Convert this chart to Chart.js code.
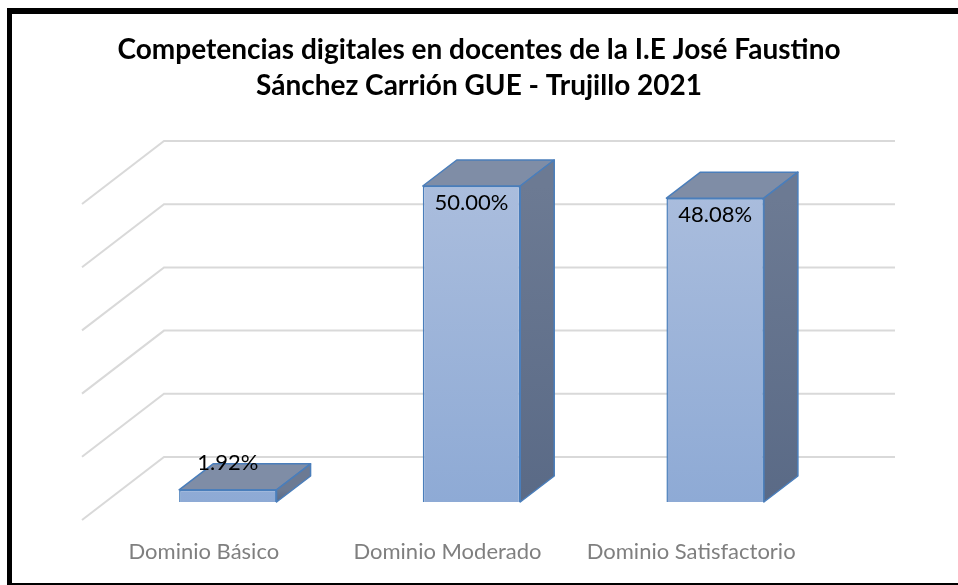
<!DOCTYPE html>
<html>
<head>
<meta charset="utf-8">
<script src="https://cdn.jsdelivr.net/npm/chart.js@4"></script>
<style>
html, body { margin: 0; padding: 0; background: #fff; }
</style>
</head>
<body>
<canvas id="chart" width="958" height="585"></canvas>
<script>
var categories = ["Dominio Básico", "Dominio Moderado", "Dominio Satisfactorio"];
var percentages = [1.92, 50.00, 48.08];
var valueLabels = ["1.92%", "50.00%", "48.08%"];
var gridValues = [0, 10, 20, 30, 40, 50];
var titleLines = ["Competencias digitales en docentes de la I.E José Faustino", "Sánchez Carrión GUE - Trujillo 2021"];

// oblique offsets for the fake 3D look (relative to the bars' front plane)
var BAR_DEPTH = { x: 34, y: -26 };
var WALL_BACK = { x: 58, y: -45 };
var WALL_FRONT = { x: -24, y: 18 };
var EDGE = '#4A7EBB';

var fake3d = {
    id: 'fake3d',
    beforeDraw: function (chart) {
        var ctx = chart.ctx;
        ctx.save();
        ctx.fillStyle = '#fff';
        ctx.fillRect(0, 0, chart.width, chart.height);
        ctx.fillStyle = '#000';
        ctx.fillRect(7, 8, chart.width - 7, 6);
        ctx.fillRect(7, 8, 5, chart.height - 8);
        ctx.fillRect(7, chart.height - 2, chart.width - 7, 2);
        ctx.restore();
    },
    beforeDatasetsDraw: function (chart) {
        var ctx = chart.ctx, a = chart.chartArea, y = chart.scales.y;
        ctx.save();
        ctx.strokeStyle = '#D9D9D9';
        ctx.lineWidth = 2;
        gridValues.forEach(function (v) {
            var py = y.getPixelForValue(v);
            ctx.beginPath();
            ctx.moveTo(a.left + WALL_FRONT.x, py + WALL_FRONT.y);
            ctx.lineTo(a.left + WALL_BACK.x, py + WALL_BACK.y);
            ctx.lineTo(a.right + WALL_BACK.x, py + WALL_BACK.y);
            ctx.stroke();
        });
        ctx.restore();
    },
    afterDatasetsDraw: function (chart) {
        var ctx = chart.ctx;
        var bars = chart.getDatasetMeta(0).data;
        ctx.save();
        ctx.lineWidth = 1.5;
        ctx.strokeStyle = EDGE;
        ctx.lineJoin = 'round';
        bars.forEach(function (bar, i) {
            var p = bar.getProps(['x', 'y', 'base', 'width'], true);
            var l = p.x - p.width / 2, r = p.x + p.width / 2, t = p.y, b = p.base;
            var dx = BAR_DEPTH.x, dy = BAR_DEPTH.y;

            // top face
            ctx.beginPath();
            ctx.moveTo(l, t);
            ctx.lineTo(l + dx, t + dy);
            ctx.lineTo(r + dx, t + dy);
            ctx.lineTo(r, t);
            ctx.closePath();
            ctx.fillStyle = '#7F8DA6';
            ctx.fill();
            ctx.stroke();

            // side face
            var g = ctx.createLinearGradient(0, t, 0, b);
            g.addColorStop(0, '#6C7A93');
            g.addColorStop(1, '#5A6A86');
            ctx.beginPath();
            ctx.moveTo(r, t);
            ctx.lineTo(r + dx, t + dy);
            ctx.lineTo(r + dx, b + dy);
            ctx.lineTo(r, b);
            ctx.closePath();
            ctx.fillStyle = g;
            ctx.fill();
            ctx.stroke();

            // value label
            ctx.fillStyle = '#000';
            ctx.font = '22px Lato';
            ctx.textAlign = 'center';
            ctx.textBaseline = 'middle';
            var ly = (b - t) > 40 ? t + 17 : t - 27;
            ctx.fillText(valueLabels[i], p.x, ly);
        });
        ctx.restore();
    }
};

var hiddenAxis = function (pos, w) {
    return {
        position: pos,
        display: true,
        min: 0,
        max: 50,
        ticks: { display: false },
        grid: { display: false, drawTicks: false },
        border: { display: false },
        afterFit: function (scale) { scale.width = w; }
    };
};

var yAxis = hiddenAxis('left', 98);
var yRight = hiddenAxis('right', 113);

var config = {
    type: 'bar',
    data: {
        labels: categories,
        datasets: [{
            data: percentages,
            backgroundColor: function (c) {
                var a = c.chart.chartArea;
                if (!a) return '#9DB4DA';
                var g = c.chart.ctx.createLinearGradient(0, a.top, 0, a.bottom);
                g.addColorStop(0, '#AABDDD');
                g.addColorStop(1, '#8EAAD5');
                return g;
            },
            borderColor: EDGE,
            borderWidth: 1.5,
            barPercentage: 0.4,
            categoryPercentage: 1.0
        }]
    },
    options: {
        responsive: false,
        animation: false,
        layout: { padding: { left: 8, right: 8, top: 0, bottom: 0 } },
        plugins: {
            legend: { display: false },
            tooltip: { enabled: false },
            title: {
                display: true,
                text: titleLines,
                color: '#000',
                font: { family: 'Lato', size: 28, weight: 'bold', lineHeight: 1.286 },
                padding: { top: 32, bottom: 82 }
            }
        },
        scales: {
            x: {
                grid: { display: false, drawTicks: false },
                border: { display: false },
                ticks: { color: '#7F7F7F', font: { family: 'Lato', size: 22 }, padding: 37, labelOffset: -24 },
                afterFit: function (scale) { scale.height = 83; }
            },
            y: yAxis,
            y2: yRight
        }
    },
    plugins: [fake3d]
};

var ctx = document.getElementById("chart");
window.competenciasChart = new Chart(ctx, config);
</script>
</body>
</html>
